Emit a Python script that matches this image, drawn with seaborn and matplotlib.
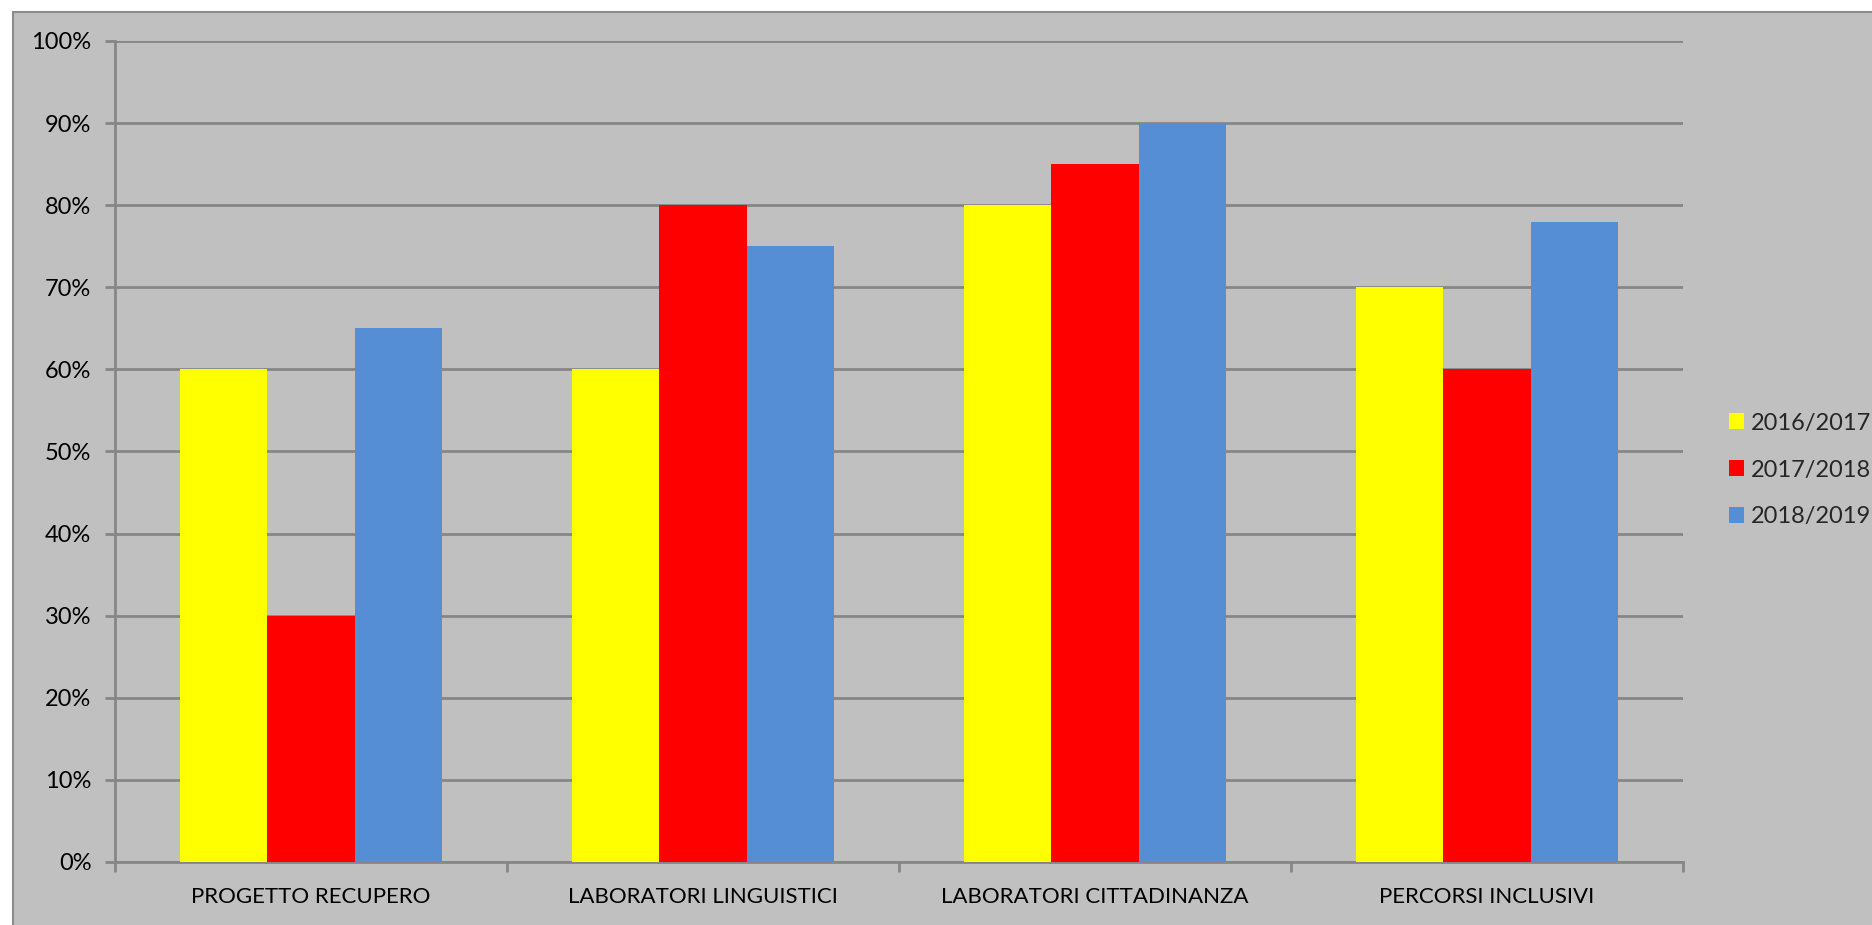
import numpy as np
import pandas as pd
import seaborn as sns
import matplotlib.pyplot as plt
from matplotlib.patches import Rectangle, Patch
from matplotlib.ticker import FixedLocator, PercentFormatter

# Data
categories = ["PROGETTO RECUPERO", "LABORATORI LINGUISTICI",
              "LABORATORI CITTADINANZA", "PERCORSI INCLUSIVI"]
years = ["2016/2017", "2017/2018", "2018/2019"]
vals_1617 = [60, 60, 80, 70]
vals_1718 = [30, 80, 85, 60]
vals_1819 = [65, 75, 90, 78]
colors = ["#FFFF00", "#FF0000", "#558ED5"]

# Long table for seaborn
df = pd.DataFrame({
    "categoria": categories * 3,
    "anno": np.repeat(years, len(categories)),
    "valore": vals_1617 + vals_1718 + vals_1819,
})

# Style
sns.set_theme(style="white")
plt.rcParams["font.family"] = ["Lato", "DejaVu Sans"]
grid_clr = "#868686"
bg_clr = "#C0C0C0"

fig = plt.figure(figsize=(18.72, 9.25), dpi=100, facecolor="white")

# Chart area box (gray with border on top and left)
box = Rectangle((13 / 1872, -0.01), 1.0, 1 - 12 / 925 + 0.01,
                transform=fig.transFigure, facecolor=bg_clr,
                edgecolor="#8C8C8C", linewidth=1.5, zorder=-5)
fig.patches.append(box)

ax = fig.add_axes([115 / 1872, 63 / 925, 1568 / 1872, 821 / 925])
ax.set_zorder(2)
ax.patch.set_alpha(0)

sns.barplot(data=df, x="categoria", y="valore", hue="anno",
            palette=colors, width=0.668, saturation=1,
            linewidth=0, ax=ax, zorder=3)

# Axes
ax.set_ylim(0, 100)
ax.set_xlim(-0.5, 3.5)
ax.set_yticks(np.arange(0, 101, 10))
ax.yaxis.set_major_formatter(PercentFormatter(decimals=0))
ax.yaxis.grid(True, color=grid_clr, linewidth=2, zorder=1)
ax.set_axisbelow(True)
ax.set_xlabel("")
ax.set_ylabel("")

for side in ["top", "right"]:
    ax.spines[side].set_visible(False)
for side in ["left", "bottom"]:
    ax.spines[side].set_color(grid_clr)
    ax.spines[side].set_linewidth(2)

ax.tick_params(axis="y", length=7, width=2, color=grid_clr, pad=10,
               labelsize=17, labelcolor="black", left=True)
ax.tick_params(axis="x", which="major", length=0, pad=18,
               labelsize=16, labelcolor="black")
ax.xaxis.set_minor_locator(FixedLocator(np.arange(-0.5, 4, 1)))
ax.tick_params(axis="x", which="minor", length=7, width=2,
               color=grid_clr, bottom=True)

# Legend
ax.get_legend().remove()
handles = [Patch(facecolor=c, edgecolor="none") for c in colors]
fig.legend(handles, years, loc="center left",
           bbox_to_anchor=(1717 / 1872, 1 - 470 / 925),
           frameon=False, fontsize=17, handlelength=0.65, handleheight=0.65,
           handletextpad=0.3, labelspacing=1.1, borderpad=0)

fig.savefig("out.png", dpi=100, facecolor="white")
